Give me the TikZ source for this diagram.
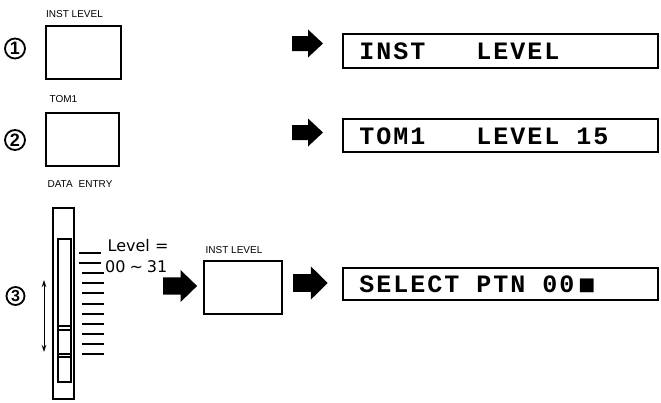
\documentclass[tikz,border=0pt]{standalone}
\usepackage{fontspec}
\setmainfont{Liberation Sans}
\newfontfamily\lcdfont[LetterSpace=8]{Liberation Mono}
\newfontfamily\symfont{DejaVu Sans}
\newfontfamily\levfont{DejaVu Sans}
\usetikzlibrary{arrows.meta}
\begin{document}
\begin{tikzpicture}[x=1pt,y=-1pt,
  keybox/.style={draw, line width=2.4pt, inner sep=0pt},
  lcdbox/.style={draw, line width=1.8pt, inner sep=0pt, minimum width=315.5pt},
  lcdtext/.style={anchor=base west, inner sep=0pt, font=\lcdfont\bfseries\fontsize{25}{25}\selectfont},
  lab/.style={inner sep=0pt, font=\fontsize{10}{10}\selectfont},
  num/.style={circle, draw, line width=1.8pt, inner sep=0pt, minimum size=20pt, font=\bfseries\fontsize{18}{18}\selectfont},
  levtext/.style={inner sep=0pt, anchor=base west, font=\levfont\fontsize{16}{16}\selectfont},
  tick/.style={line width=2pt},
  updown/.style={line width=0.9pt, {Stealth[length=7pt,width=4.5pt]}-{Stealth[length=7pt,width=4.5pt]}},
  blockarrow/.pic={\fill (0,-7.5) -- (16,-7.5) -- (16,-14) -- (31,0) -- (16,14) -- (16,7.5) -- (0,7.5) -- cycle;}
]
\useasboundingbox (0,0) rectangle (661,402);

% step numbers
\node[num] (c1) at (15,48.5) {1};
\node[num] (c2) at (15,140) {2};
\node[num, minimum size=18pt, font=\bfseries\fontsize{16}{16}\selectfont] (c3) at (15.5,296) {3};

% key labels
\node[lab] (l1) at (74.5,14) {INST LEVEL};
\node[lab] (l2) at (63.5,99) {TOM1};
\node[lab] (l3) at (80,184) {DATA\hspace{6pt}ENTRY};
\node[lab] (l4) at (234,250.5) {INST LEVEL};

% keys
\node[keybox, minimum width=74.5pt, minimum height=52.5pt] (k1) at (83.5,52.5) {};
\node[keybox, minimum width=72.5pt, minimum height=52.5pt] (k2) at (82.5,139.5) {};
\node[keybox, minimum width=77.5pt, minimum height=52.5pt] (k3) at (243,287.5) {};

% displays
\node[lcdbox, minimum height=34.5pt] (d1) at (500.5,51) {};
\node[lcdbox, minimum height=33.5pt] (d2) at (500.5,135.5) {};
\node[lcdbox, minimum height=32.5pt] (d3) at (500.5,284) {};
\node[lcdtext] (t1) at (359.2,59.5) {INST\hspace{51pt}LEVEL};
\node[lcdtext] (t2) at (359.2,144) {TOM1\hspace{51pt}LEVEL\hspace{17pt}15};
\node[lcdtext] (t3) at (359.2,292) {SELECT\hspace{17pt}PTN\hspace{17pt}00\hspace{4pt}\raisebox{2pt}{\symfont\fontsize{18}{18}\selectfont ■}};

% block arrows
\pic at (292,43.5) {blockarrow};
\pic at (292,132.5) {blockarrow};
\pic[xscale=1.1, yscale=1.14] at (163,286) {blockarrow};
\pic[xscale=1.12, yscale=1.18] at (293,283) {blockarrow};

% slider
\node[draw, line width=2.4pt, inner sep=0pt, minimum width=21pt, minimum height=191pt] (slider) at (63.5,303.5) {};
\node[draw, line width=1.8pt, inner sep=0pt, minimum width=13.5pt, minimum height=143pt] (slot) at (64.5,310.5) {};
\foreach \yy in {326,330,354,357} {
  \draw[line width=1.4pt] (slot.west |- 0,\yy) -- (slot.east |- 0,\yy);
}
% scale ticks
\foreach \i in {0,1} {
  \draw[tick] (79,253+10.1*\i) -- (101,253+10.1*\i);
}
\foreach \i in {2,...,10} {
  \draw[tick] (82,253+10.1*\i) -- (104,253+10.1*\i);
}
% up/down arrow
\coordinate (ut) at (44,280);
\coordinate (dt) at (44,352);
\draw[updown] (ut) -- (dt);

% level text
\node[levtext] (lv1) at (107.5,251) {Level =};
\node[levtext] (lv2) at (105,272) {00\hspace{4pt}\textasciitilde\hspace{4pt}31};
\end{tikzpicture}
\end{document}
